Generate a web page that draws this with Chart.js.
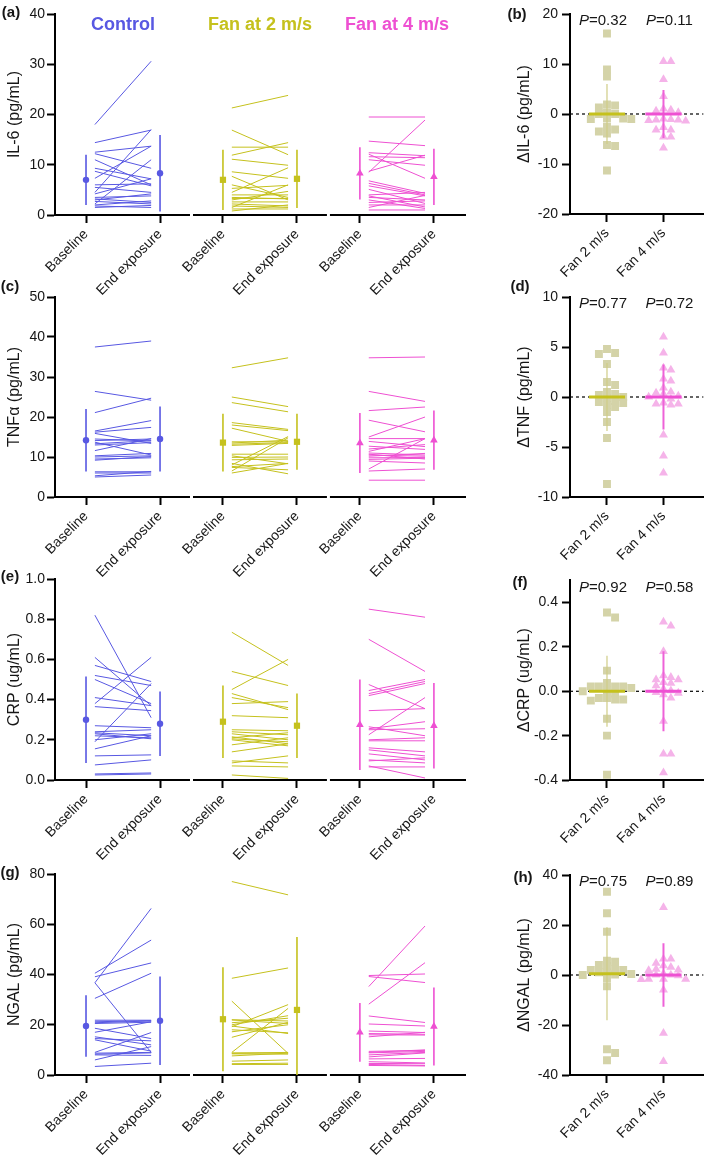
<!DOCTYPE html>
<html><head><meta charset="utf-8">
<script src="https://cdn.jsdelivr.net/npm/chart.js@4.4.1/dist/chart.umd.min.js"></script>
<style>
html,body{margin:0;padding:0;background:#fff;}
body{width:709px;height:1166px;position:relative;overflow:hidden;}
canvas{position:absolute;}
</style></head><body>
<script>
// ---------- categories / labels ----------
const xLabelsLeft = ['Baseline','End exposure','Baseline','End exposure','Baseline','End exposure'];
const xPosLeft = [0, 1, 1.85, 2.85, 3.7, 4.7];
const groupTitles = ['Control','Fan at 2 m/s','Fan at 4 m/s'];
const xLabelsRight = ['Fan 2 m/s','Fan 4 m/s'];

// ---------- IL-6 (pg/mL) ----------
const il6CtrlBase = [18.0,14.4,12.5,12.2,11.0,9.3,8.7,7.3,6.0,4.5,4.2,3.5,3.0,2.7,2.2,2.0,1.8,1.5,3.2,5.5];
const il6CtrlEnd  = [30.6,16.9,13.7,9.3,6.0,7.2,5.8,13.7,6.2,17.0,7.2,3.8,4.2,2.2,11.0,2.8,1.5,1.9,2.5,4.5];
const il6Fan2Base = [21.3,16.9,13.5,11.9,11.1,8.6,7.7,6.0,5.3,4.5,4.0,3.5,3.0,2.6,2.2,1.8,1.5,1.2,0.8,3.3];
const il6Fan2End  = [23.8,12.0,13.5,14.4,9.9,7.3,3.0,3.5,5.9,9.4,4.0,3.2,4.7,2.6,1.8,1.5,6.0,1.2,2.0,3.3];
const il6Fan4Base = [19.5,14.7,8.5,12.4,12.1,11.6,11.0,8.7,6.8,6.3,5.8,5.1,4.0,3.8,3.5,2.5,2.0,1.5,1.0,3.0];
const il6Fan4End  = [19.5,13.8,18.9,11.8,7.3,11.4,9.9,11.9,4.3,4.0,3.8,2.3,4.5,1.6,3.0,2.8,2.0,3.9,1.0,1.3];
const il6Mean = [7.0, 8.3, 7.0, 7.2, 8.3, 7.6];
const il6Sd   = [5.0, 7.6, 6.0, 5.8, 5.2, 5.6];
const il6Ticks = [0,10,20,30,40];

// ---------- TNFa (pg/mL) ----------
const tnfCtrlBase = [37.5,26.4,21.1,16.5,16.2,15.9,14.1,13.7,13.3,13.0,11.6,10.3,10.0,9.5,9.2,6.3,6.0,5.3,5.0,14.5];
const tnfCtrlEnd  = [39.0,24.2,24.7,19.1,17.4,13.4,14.5,10.5,14.1,13.6,14.6,10.9,10.3,9.8,10.1,6.3,6.0,6.4,5.5,14.0];
const tnfFan2Base = [32.3,25.0,23.6,18.6,18.0,17.2,13.8,13.5,13.2,12.9,10.7,9.9,9.3,8.0,7.6,7.4,6.5,6.0,8.4,10.3];
const tnfFan2End  = [34.8,22.6,21.3,16.9,16.6,13.9,13.8,14.2,13.6,13.4,10.7,10.0,9.5,15.1,8.4,6.8,14.8,8.4,5.8,8.3];
const tnfFan4Base = [34.8,26.4,21.6,19.2,15.0,14.6,13.9,12.7,11.4,11.0,10.7,10.2,9.8,9.0,7.0,6.5,10.5,4.2,12.0,9.4];
const tnfFan4End  = [35.0,23.9,22.5,16.3,20.0,14.6,12.6,11.9,14.6,10.5,9.5,10.9,9.9,8.5,14.6,7.0,10.2,4.2,13.1,9.7];
const tnfMean = [14.2, 14.5, 13.6, 13.8, 13.5, 14.2];
const tnfSd   = [7.8, 8.1, 7.2, 7.0, 7.5, 7.4];
const tnfTicks = [0,10,20,30,40,50];

// ---------- CRP (ug/mL) ----------
const crpCtrlBase = [0.82,0.61,0.57,0.52,0.50,0.41,0.38,0.365,0.27,0.24,0.235,0.22,0.19,0.155,0.12,0.075,0.03,0.025,0.20,0.23];
const crpCtrlEnd  = [0.31,0.37,0.49,0.47,0.38,0.37,0.61,0.345,0.26,0.25,0.22,0.21,0.48,0.22,0.125,0.10,0.035,0.03,0.23,0.205];
const crpFan2Base = [0.735,0.54,0.45,0.43,0.41,0.38,0.32,0.25,0.24,0.215,0.21,0.205,0.20,0.175,0.14,0.095,0.085,0.07,0.025,0.23];
const crpFan2End  = [0.57,0.47,0.60,0.35,0.36,0.39,0.31,0.245,0.225,0.18,0.235,0.19,0.17,0.21,0.18,0.085,0.12,0.065,0.008,0.20];
const crpFan4Base = [0.85,0.70,0.475,0.445,0.43,0.42,0.345,0.265,0.255,0.225,0.20,0.195,0.16,0.15,0.13,0.10,0.095,0.07,0.065,0.25];
const crpFan4End  = [0.81,0.54,0.355,0.50,0.49,0.48,0.355,0.22,0.29,0.41,0.21,0.195,0.14,0.12,0.10,0.085,0.11,0.01,0.065,0.255];
const crpMean = [0.30, 0.28, 0.29, 0.27, 0.275, 0.27];
const crpSd   = [0.215, 0.16, 0.18, 0.16, 0.225, 0.213];
const crpTicks = [0,0.2,0.4,0.6,0.8,1.0];

// ---------- NGAL (pg/mL) ----------
const ngalCtrlBase = [36.7,36.7,40.5,39.1,30.5,21.8,21.2,20.8,20.5,18.6,17.0,15.2,14.5,14.0,9.0,8.7,8.3,6.0,3.4,8.0];
const ngalCtrlEnd  = [66.3,9.0,53.7,44.6,40.5,21.8,21.6,21.5,21.0,14.5,21.2,12.0,13.6,9.5,16.9,9.0,8.8,11.3,4.7,7.8];
const ngalFan2Base = [77.0,38.5,29.4,21.9,20.8,20.0,19.2,18.0,17.2,15.0,9.0,8.8,8.6,8.4,7.6,5.5,4.5,4.2,19.5,22.0];
const ngalFan2End  = [71.7,42.6,8.6,20.5,22.6,23.6,28.0,16.8,20.0,21.0,26.5,8.8,9.0,8.3,8.7,6.0,4.7,4.2,16.5,21.5];
const ngalFan4Base = [35.2,28.2,39.6,39.2,23.5,20.3,17.5,16.0,15.2,9.4,8.8,8.0,7.2,6.4,5.3,4.6,4.2,3.8,9.0,16.5];
const ngalFan4End  = [59.3,44.7,40.2,36.8,20.9,19.5,16.9,15.9,17.0,9.8,9.4,9.0,8.8,6.6,4.8,4.5,3.8,3.6,10.0,16.2];
const ngalMean = [19.5, 21.6, 22.2, 25.9, 17.0, 19.3];
const ngalSd   = [12.2, 17.6, 20.7, 29.0, 11.7, 15.5];
const ngalTicks = [0,20,40,60,80];

// ---------- Change from baseline (right panels) ----------
const dIl6Fan2 = [16.1,8.9,7.5,1.9,1.7,1.3,0.3,0,0,-0.8,-0.9,-1.0,-1.0,-2.5,-3.1,-3.5,-3.9,-6.2,-6.4,-11.3];
const dIl6Fan4 = [10.5,10.5,6.9,3.5,1.0,0.8,0.6,0.3,-1.0,-1.1,-1.2,-1.2,-1.3,-1.4,-2.7,-3.2,-3.2,-4.6,-4.6,-6.8];
const dIl6Mean = [0, 0], dIl6Sd = [6.0, 4.8], dIl6P = ['0.32','0.11'];
const dIl6Ticks = [-20,-10,0,10,20];

const dTnfFan2 = [4.8,4.4,4.3,3.3,1.5,1.2,0.5,0.3,0.2,0.0,-0.1,-0.4,-0.5,-0.6,-0.8,-1.0,-1.5,-2.5,-4.1,-8.7];
const dTnfFan4 = [6.0,4.4,2.9,2.7,1.8,1.6,0.9,0.5,0.4,0.3,0.1,0.0,-0.2,-0.6,-0.7,-0.7,-0.8,-3.8,-5.9,-7.6];
const dTnfMean = [0, 0], dTnfSd = [3.4, 3.25], dTnfP = ['0.77','0.72'];
const dTnfTicks = [-10,-5,0,5,10];

const dCrpFan2 = [0.355,0.333,0.093,0.037,0.022,0.022,0.022,0.022,0.015,0.005,0.0,-0.01,-0.03,-0.03,-0.037,-0.037,-0.042,-0.124,-0.2,-0.376];
const dCrpFan4 = [0.313,0.295,0.18,0.07,0.063,0.052,0.052,0.04,0.037,0.025,0.01,0.003,-0.005,-0.008,-0.015,-0.03,-0.135,-0.282,-0.282,-0.367];
const dCrpMean = [0, 0], dCrpSd = [0.16, 0.18], dCrpP = ['0.92','0.58'];
const dCrpTicks = [-0.4,-0.2,0,0.2,0.4];

const dNgalFan2 = [33.3,24.7,17.3,5.7,5.3,4.0,3.6,2.4,2.0,2.0,1.1,1.1,0.4,0.2,0.0,-1.2,-4.5,-29.7,-31.2,-34.1];
const dNgalFan4 = [27.0,6.4,6.4,4.7,3.7,3.1,2.3,2.0,1.8,0.5,0.0,0.0,-0.3,-1.7,-1.7,-1.7,-1.8,-6.0,-23.3,-34.6];
const dNgalMean = [0.5, 0], dNgalSd = [18.6, 12.7], dNgalP = ['0.75','0.89'];
const dNgalTicks = [-40,-20,0,20,40];

// ---------- styles ----------
const FONT = "'Liberation Sans', Arial, Helvetica, sans-serif";
const INK = '#161616';
const C_CTRL = '#5858e2', C_FAN2 = '#c5c11d', C_FAN4 = '#ee50d2';
const SQ_FILL = '#d4d3a8', TRI_FILL = '#f5b3e9', FAN2_SD = '#d0cd86', FAN4_SD = '#ee62d8';
Chart.defaults.font.family = FONT;
Chart.defaults.color = INK;
Chart.defaults.animation = false;

function makeCanvas(left, top, w, h) {
  const c = document.createElement('canvas');
  c.width = w; c.height = h;
  c.style.left = left + 'px'; c.style.top = top + 'px';
  c.style.width = w + 'px'; c.style.height = h + 'px';
  document.body.appendChild(c);
  return c;
}

function axisCommon(ticks, dec, tickPad) {
  return {
    afterBuildTicks: s => { s.ticks = ticks.map(v => ({value: v})); },
    ticks: {autoSkip: false, padding: tickPad, font: {size: 14}, color: INK,
            callback: v => Number(v).toFixed(dec)},
    grid: {drawOnChartArea: false, drawTicks: true, tickLength: 8, tickWidth: 2, tickColor: '#000'},
    border: {display: true, color: '#000', width: 2}
  };
}

// ---------- left panels ----------
function leftPanel(p) {
  const W = 470, colors = [C_CTRL, C_FAN2, C_FAN4];
  const styles = ['circle', 'rect', 'triangle'], radii = [3.2, 4.4, 4.4];
  const inset = 0.12;
  const meanSets = [], barSets = [], lineSets = [];
  for (let g = 0; g < 3; g++) {
    const xb = xPosLeft[2*g], xe = xPosLeft[2*g+1];
    const pts = [];
    p.base[g].forEach((b, i) => {
      pts.push({x: xb + inset, y: b}, {x: xe - inset, y: p.end[g][i]}, {x: xe, y: null});
    });
    lineSets.push({data: pts, showLine: true, spanGaps: false, borderColor: colors[g], borderWidth: 1,
                   pointRadius: 0, pointHoverRadius: 0});
    [0, 1].forEach(k => {
      const j = 2*g + k, x = xPosLeft[j];
      barSets.push({data: [{x, y: p.mean[j] - p.sd[j]}, {x, y: p.mean[j] + p.sd[j]}], showLine: true,
                    borderColor: colors[g], borderWidth: 1.6, pointRadius: 0, pointHoverRadius: 0});
    });
    meanSets.push({data: [{x: xb, y: p.mean[2*g]}, {x: xe, y: p.mean[2*g+1]}], showLine: false,
                   pointStyle: styles[g], pointRadius: radii[g], pointHoverRadius: radii[g],
                   backgroundColor: colors[g], borderColor: colors[g], borderWidth: 0});
  }
  const yAx = axisCommon(p.yTicks, p.dec, 2);
  yAx.min = p.yMin; yAx.max = p.yMax;
  yAx.afterFit = s => { s.width = 55; };
  yAx.title = {display: true, text: p.yTitle, font: {size: 16}, color: INK, padding: {top: 5, bottom: 0}};
  const xAx = axisCommon(xPosLeft, 0, 3);
  xAx.type = 'linear'; xAx.min = -0.419; xAx.max = 5.12;
  xAx.ticks.minRotation = 45; xAx.ticks.maxRotation = 45;
  xAx.ticks.callback = (v, i) => xLabelsLeft[i];
  xAx.afterFit = s => { s.height = p.h - p.relBottom; };
  const canvas = makeCanvas(0, p.top, W, p.h);
  return new Chart(canvas.getContext('2d'), {
    type: 'scatter',
    data: {datasets: [...meanSets, ...barSets, ...lineSets]},
    options: {
      responsive: false, animation: false, devicePixelRatio: 1,
      layout: {padding: {top: p.relTop, left: 0, right: 5, bottom: 0}},
      plugins: {legend: {display: false}, tooltip: {enabled: false}},
      scales: {x: xAx, y: yAx}
    },
    plugins: [{
      id: 'annoLeft',
      afterDraw(chart) {
        const ctx = chart.ctx, a = chart.chartArea, xs = chart.scales.x;
        ctx.save();
        ctx.fillStyle = '#fff';
        [(xPosLeft[1] + xPosLeft[2]) / 2, (xPosLeft[3] + xPosLeft[4]) / 2].forEach(v => {
          const px = xs.getPixelForValue(v);
          ctx.fillRect(px - 1.5, a.bottom - 2, 3, 4);
        });
        ctx.fillStyle = INK; ctx.textAlign = 'center'; ctx.textBaseline = 'middle';
        ctx.font = 'bold 15px ' + FONT;
        ctx.fillText(p.tag, p.tagX, p.tagY);
        if (p.titles) {
          ctx.font = 'bold 18px ' + FONT;
          groupTitles.forEach((t, g) => {
            ctx.fillStyle = colors[g];
            ctx.fillText(t, xs.getPixelForValue((xPosLeft[2*g] + xPosLeft[2*g+1]) / 2), 25);
          });
        }
        ctx.restore();
      }
    }]
  });
}

// ---------- right panels ----------
const RX_MIN = -0.655, RX_MAX = 1.707;
// collision-avoiding scatter arrangement (largest values placed first, nearest free slot to the centre)
function swarm(vals, cx, pxX, pxY, D) {
  const DY = 5.2, placed = [], out = [];
  const sorted = [...vals].sort((a, b) => b - a);
  sorted.forEach(v => {
    const py = v * pxY;
    for (let k = 0; k < 40; k++) {
      const off = (k % 2 ? 1 : -1) * Math.ceil(k / 2) * D / 2;
      if (!placed.some(q => Math.abs(q.px - off) < D * 0.9 && Math.abs(q.py - py) < DY)) {
        placed.push({px: off, py});
        out.push({x: cx + off / pxX, y: v});
        break;
      }
    }
  });
  return out;
}

function rightPanel(p) {
  const W = 229, left = 480;
  const plotH = p.relBottom - p.relTop, pxY = plotH / (p.yMax - p.yMin);
  const pxX = (227 - 90) / (RX_MAX - RX_MIN);
  const half = 0.32;
  const datasets = [
    {data: [{x: -half, y: p.mean[0]}, {x: half, y: p.mean[0]}], showLine: true, borderColor: C_FAN2, borderWidth: 3, pointRadius: 0, pointHoverRadius: 0},
    {data: [{x: 1 - half, y: p.mean[1]}, {x: 1 + half, y: p.mean[1]}], showLine: true, borderColor: C_FAN4, borderWidth: 3, pointRadius: 0, pointHoverRadius: 0},
    {data: [{x: 0, y: p.mean[0] - p.sd[0]}, {x: 0, y: p.mean[0] + p.sd[0]}], showLine: true, borderColor: FAN2_SD, borderWidth: 1.2, pointRadius: 0, pointHoverRadius: 0},
    {data: [{x: 1, y: p.mean[1] - p.sd[1]}, {x: 1, y: p.mean[1] + p.sd[1]}], showLine: true, borderColor: FAN4_SD, borderWidth: 2, pointRadius: 0, pointHoverRadius: 0},
    {data: swarm(p.vals[0], 0, pxX, pxY, 8.3), showLine: false, pointStyle: 'rect', pointRadius: 5.6, pointHoverRadius: 5.6, backgroundColor: SQ_FILL, borderWidth: 0},
    {data: swarm(p.vals[1], 1, pxX, pxY, 7.6), showLine: false, pointStyle: 'triangle', pointRadius: 5.2, pointHoverRadius: 5.2, backgroundColor: TRI_FILL, borderWidth: 0}
  ];
  const yAx = axisCommon(p.yTicks, p.dec, 4);
  yAx.min = p.yMin; yAx.max = p.yMax;
  yAx.afterFit = s => { s.width = 59; };
  yAx.title = {display: true, text: p.yTitle, font: {size: 16}, color: INK, padding: {top: 4, bottom: 0}};
  const xAx = axisCommon([0, 1], 0, 3);
  xAx.type = 'linear'; xAx.min = RX_MIN; xAx.max = RX_MAX;
  xAx.ticks.minRotation = 45; xAx.ticks.maxRotation = 45;
  xAx.ticks.callback = (v, i) => xLabelsRight[i];
  xAx.afterFit = s => { s.height = p.h - p.relBottom; };
  const canvas = makeCanvas(left, p.top, W, p.h);
  return new Chart(canvas.getContext('2d'), {
    type: 'scatter',
    data: {datasets},
    options: {
      responsive: false, animation: false, devicePixelRatio: 1,
      layout: {padding: {top: p.relTop, left: 31, right: 2, bottom: 0}},
      plugins: {legend: {display: false}, tooltip: {enabled: false}},
      scales: {x: xAx, y: yAx}
    },
    plugins: [{
      id: 'annoRight',
      beforeDatasetsDraw(chart) {
        const ctx = chart.ctx, a = chart.chartArea, y0 = chart.scales.y.getPixelForValue(0);
        ctx.save();
        ctx.strokeStyle = '#000'; ctx.lineWidth = 1.2; ctx.setLineDash([3, 3]);
        ctx.beginPath(); ctx.moveTo(a.left, y0); ctx.lineTo(a.right, y0); ctx.stroke();
        ctx.restore();
      },
      afterDraw(chart) {
        const ctx = chart.ctx, a = chart.chartArea, xs = chart.scales.x;
        ctx.save();
        ctx.fillStyle = INK; ctx.textBaseline = 'middle';
        ctx.textAlign = 'center'; ctx.font = 'bold 15px ' + FONT;
        ctx.fillText(p.tag, p.tagX, p.tagY);
        ctx.textAlign = 'left';
        p.pText.forEach((t, i) => {
          const cx = xs.getPixelForValue(i) + (i ? 6 : -4);
          ctx.font = 'italic 15px ' + FONT; const wP = ctx.measureText('P').width;
          ctx.font = '15px ' + FONT; const rest = '=' + t; const wR = ctx.measureText(rest).width;
          const x0 = cx - (wP + wR) / 2, y = a.top + 7;
          ctx.font = 'italic 15px ' + FONT; ctx.fillText('P', x0, y);
          ctx.font = '15px ' + FONT; ctx.fillText(rest, x0 + wP, y);
        });
        ctx.restore();
      }
    }]
  });
}

// ---------- build ----------
leftPanel({top: 0, h: 300, relTop: 14, relBottom: 215, yMin: 0, yMax: 40, yTicks: il6Ticks, dec: 0,
  yTitle: 'IL-6 (pg/mL)', tag: '(a)', tagX: 11, tagY: 13, titles: true,
  base: [il6CtrlBase, il6Fan2Base, il6Fan4Base], end: [il6CtrlEnd, il6Fan2End, il6Fan4End], mean: il6Mean, sd: il6Sd});
leftPanel({top: 280, h: 300, relTop: 17, relBottom: 217, yMin: 0, yMax: 50, yTicks: tnfTicks, dec: 0,
  yTitle: 'TNFα (pg/mL)', tag: '(c)', tagX: 10, tagY: 7, titles: false,
  base: [tnfCtrlBase, tnfFan2Base, tnfFan4Base], end: [tnfCtrlEnd, tnfFan2End, tnfFan4End], mean: tnfMean, sd: tnfSd});
leftPanel({top: 560, h: 300, relTop: 19, relBottom: 220, yMin: 0, yMax: 1.0, yTicks: crpTicks, dec: 1,
  yTitle: 'CRP (ug/mL)', tag: '(e)', tagX: 10, tagY: 17, titles: false,
  base: [crpCtrlBase, crpFan2Base, crpFan4Base], end: [crpCtrlEnd, crpFan2End, crpFan4End], mean: crpMean, sd: crpSd});
leftPanel({top: 860, h: 306, relTop: 14, relBottom: 215, yMin: 0, yMax: 80, yTicks: ngalTicks, dec: 0,
  yTitle: 'NGAL (pg/mL)', tag: '(g)', tagX: 10, tagY: 13, titles: false,
  base: [ngalCtrlBase, ngalFan2Base, ngalFan4Base], end: [ngalCtrlEnd, ngalFan2End, ngalFan4End], mean: ngalMean, sd: ngalSd});

rightPanel({top: 0, h: 290, relTop: 14, relBottom: 214, yMin: -20, yMax: 20, yTicks: dIl6Ticks, dec: 0,
  yTitle: 'ΔIL-6 (pg/mL)', tag: '(b)', tagX: 37, tagY: 15, vals: [dIl6Fan2, dIl6Fan4], mean: dIl6Mean, sd: dIl6Sd, pText: dIl6P});
rightPanel({top: 276, h: 290, relTop: 21, relBottom: 221, yMin: -10, yMax: 10, yTicks: dTnfTicks, dec: 0,
  yTitle: 'ΔTNF (pg/mL)', tag: '(d)', tagX: 40, tagY: 11, vals: [dTnfFan2, dTnfFan4], mean: dTnfMean, sd: dTnfSd, pText: dTnfP});
rightPanel({top: 568, h: 290, relTop: 12, relBottom: 212, yMin: -0.4, yMax: 0.5, yTicks: dCrpTicks, dec: 1,
  yTitle: 'ΔCRP (ug/mL)', tag: '(f)', tagX: 40, tagY: 15, vals: [dCrpFan2, dCrpFan4], mean: dCrpMean, sd: dCrpSd, pText: dCrpP});
rightPanel({top: 862, h: 304, relTop: 13, relBottom: 213, yMin: -40, yMax: 40, yTicks: dNgalTicks, dec: 0,
  yTitle: 'ΔNGAL (pg/mL)', tag: '(h)', tagX: 43, tagY: 16, vals: [dNgalFan2, dNgalFan4], mean: dNgalMean, sd: dNgalSd, pText: dNgalP});
</script>
</body></html>
